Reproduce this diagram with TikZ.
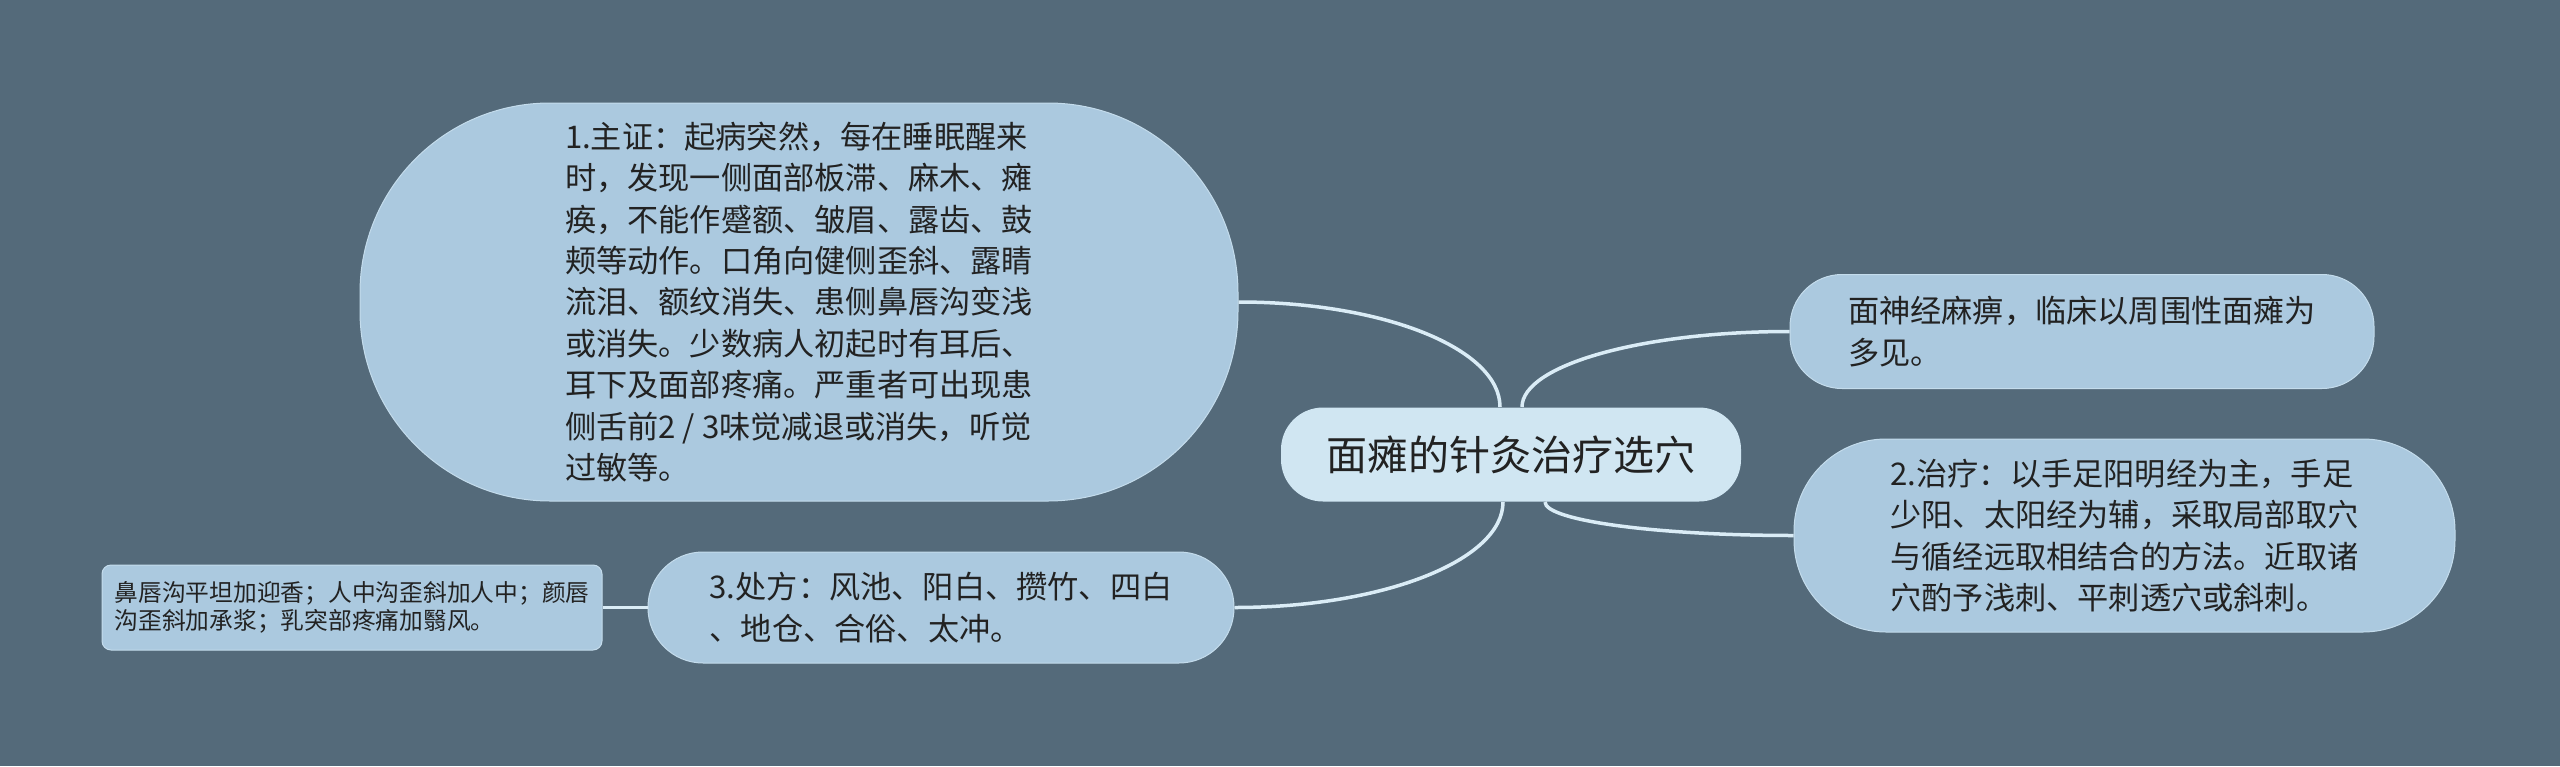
\documentclass[tikz,border=0pt]{standalone}
\usepackage{fontspec}
\setmainfont{Noto Sans CJK SC}
\definecolor{bgc}{HTML}{546A7A}
\definecolor{nodefill}{HTML}{ABC9DF}
\definecolor{nodeedge}{HTML}{C4DCEC}
\definecolor{centerfill}{HTML}{D0E6F2}
\definecolor{linecol}{HTML}{DAECF6}
\definecolor{txt}{HTML}{222222}
\begin{document}
\begin{tikzpicture}[x=1pt,y=-1pt,
  box/.style={fill=nodefill, draw=nodeedge, line width=1pt, inner sep=0pt, align=left, text=txt,
    font=\fontsize{31.2}{41.4}\selectfont},
  conn/.style={draw=linecol, line width=3.5pt}]
\fill[bgc] (0,0) rectangle (2560,766);
\useasboundingbox (0,0) rectangle (2560,766);

\node[box, rounded corners=190pt, minimum width=878pt, minimum height=398pt] (n1) at (799,302)
{1.主证：起病突然，每在睡眠醒来\\
时，发现一侧面部板滞、麻木、瘫\\
痪，不能作蹙额、皱眉、露齿、鼓\\
颊等动作。口角向健侧歪斜、露睛\\
流泪、额纹消失、患侧鼻唇沟变浅\\
或消失。少数病人初起时有耳后、\\
耳下及面部疼痛。严重者可出现患\\
侧舌前2 / 3味觉减退或消失，听觉\\
过敏等。};

\node[box, fill=centerfill, draw=none, rounded corners=42pt, minimum width=460pt, minimum height=94pt,
  font=\fontsize{41}{46}\selectfont] (c0) at (1511,454.5) {面瘫的针灸治疗选穴};

\node[box, rounded corners=52pt, minimum width=584pt, minimum height=114pt] (r1) at (2082,331.5)
{面神经麻痹，临床以周围性面瘫为\\多见。};

\node[box, rounded corners=92pt, minimum width=661pt, minimum height=193pt] (r2) at (2124.5,535.5)
{2.治疗：以手足阳明经为主，手足\\
少阳、太阳经为辅，采取局部取穴\\
与循经远取相结合的方法。近取诸\\
穴酌予浅刺、平刺透穴或斜刺。};

\node[box, rounded corners=55pt, minimum width=586pt, minimum height=111pt] (n3) at (941,607.5)
{3.处方：风池、阳白、攒竹、四白\\、地仓、合俗、太冲。};

\node[box, rounded corners=9pt, minimum width=500pt, minimum height=85pt,
  font=\fontsize{23.75}{28}\selectfont] (leaf) at (352,607.5)
{鼻唇沟平坦加迎香；人中沟歪斜加人中；颜唇\\沟歪斜加承浆；乳突部疼痛加翳风。};

\draw[conn] ([xshift=-11pt]c0.north) .. controls +(0,-58.5) and +(144.7,0) .. (n1.east);
\draw[conn] ([xshift=11pt]c0.north) .. controls +(0,-41.7) and +(-148,0) .. (r1.west);
\draw[conn] ([xshift=34pt]c0.south) .. controls +(0,18.5) and +(-137.5,0) .. (r2.west);
\draw[conn] ([xshift=-8pt]c0.south) .. controls +(0,58.3) and +(148.6,0) .. (n3.east);
\draw[conn] (n3.west) -- (leaf.east);
\end{tikzpicture}
\end{document}
